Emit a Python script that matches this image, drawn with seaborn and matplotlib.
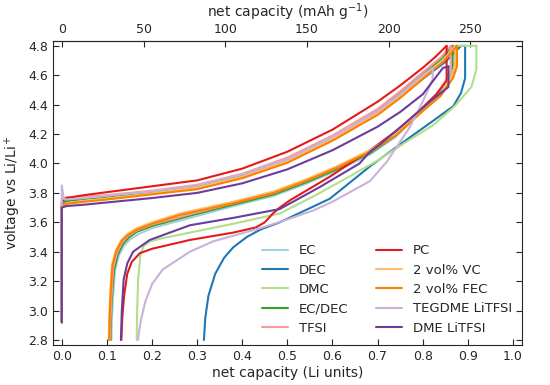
import matplotlib
matplotlib.use("Agg")
import matplotlib.pyplot as plt
import seaborn as sns

# electrolyte labels and colours (Paired palette order)
labels = ["EC", "DEC", "DMC", "EC/DEC", "TFSI",
          "PC", "2 vol% VC", "2 vol% FEC", "TEGDME LiTFSI", "DME LiTFSI"]
colors = sns.color_palette("Paired", 10)

# first charge curves (net capacity in Li units, voltage vs Li/Li+)
ec_charge_x = [0, 0, 0.01, 0.05, 0.1, 0.2, 0.3, 0.4, 0.5, 0.6, 0.7, 0.75, 0.8, 0.84, 0.87]
ec_charge_v = [2.92, 3.71, 3.74, 3.755, 3.77, 3.805, 3.845, 3.92, 4.03, 4.18, 4.36, 4.47, 4.60, 4.70, 4.80]
dec_charge_x = [0, 0, 0.01, 0.05, 0.1, 0.2, 0.3, 0.4, 0.5, 0.6, 0.7, 0.75, 0.8, 0.85, 0.885, 0.894]
dec_charge_v = [2.92, 3.71, 3.735, 3.75, 3.765, 3.80, 3.84, 3.915, 4.02, 4.17, 4.345, 4.455, 4.575, 4.69, 4.80, 4.80]
dmc_charge_x = [0, 0, 0.01, 0.05, 0.1, 0.2, 0.3, 0.4, 0.5, 0.6, 0.7, 0.75, 0.8, 0.845, 0.875, 0.919]
dmc_charge_v = [2.92, 3.71, 3.735, 3.75, 3.765, 3.80, 3.84, 3.91, 4.02, 4.17, 4.345, 4.46, 4.59, 4.70, 4.80, 4.80]
ecdec_charge_x = [0, 0, 0.01, 0.05, 0.1, 0.2, 0.3, 0.4, 0.5, 0.6, 0.7, 0.75, 0.8, 0.84, 0.866]
ecdec_charge_v = [2.92, 3.72, 3.745, 3.76, 3.775, 3.81, 3.85, 3.925, 4.035, 4.185, 4.365, 4.48, 4.61, 4.71, 4.80]
tfsi_charge_x = [0, 0, 0.01, 0.05, 0.1, 0.2, 0.3, 0.4, 0.5, 0.6, 0.7, 0.75, 0.8, 0.84, 0.862]
tfsi_charge_v = [2.92, 3.76, 3.77, 3.775, 3.785, 3.815, 3.855, 3.93, 4.04, 4.19, 4.37, 4.49, 4.62, 4.72, 4.80]
pc_charge_x = [0, 0, 0.01, 0.05, 0.1, 0.2, 0.3, 0.4, 0.5, 0.6, 0.7, 0.75, 0.8, 0.83, 0.853]
pc_charge_v = [2.92, 3.74, 3.765, 3.785, 3.805, 3.845, 3.885, 3.965, 4.08, 4.23, 4.42, 4.53, 4.65, 4.73, 4.80]
vc_charge_x = [0, 0, 0.01, 0.05, 0.1, 0.2, 0.3, 0.4, 0.5, 0.6, 0.7, 0.75, 0.8, 0.845, 0.872]
vc_charge_v = [2.92, 3.71, 3.73, 3.745, 3.76, 3.795, 3.835, 3.91, 4.015, 4.165, 4.34, 4.455, 4.585, 4.70, 4.80]
fec_charge_x = [0, 0, 0.01, 0.05, 0.1, 0.2, 0.3, 0.4, 0.5, 0.6, 0.7, 0.75, 0.8, 0.845, 0.876]
fec_charge_v = [2.92, 3.71, 3.725, 3.74, 3.755, 3.79, 3.825, 3.90, 4.005, 4.155, 4.33, 4.445, 4.575, 4.69, 4.80]
tegdme_charge_x = [0, 0, 0.004, 0.01, 0.05, 0.1, 0.2, 0.3, 0.4, 0.5, 0.6, 0.7, 0.75, 0.8, 0.822]
tegdme_charge_v = [2.92, 3.85, 3.76, 3.755, 3.765, 3.78, 3.81, 3.85, 3.925, 4.03, 4.18, 4.355, 4.47, 4.60, 4.65]
dme_charge_x = [0, 0, 0.01, 0.05, 0.1, 0.2, 0.3, 0.4, 0.5, 0.6, 0.7, 0.75, 0.8, 0.845, 0.857]
dme_charge_v = [2.92, 3.70, 3.71, 3.72, 3.735, 3.765, 3.80, 3.865, 3.96, 4.09, 4.25, 4.35, 4.47, 4.65, 4.66]

# first discharge curves
ec_dis_x = [0.87, 0.87, 0.86, 0.83, 0.79, 0.74, 0.683, 0.609, 0.54, 0.47, 0.38, 0.284, 0.20, 0.17, 0.15, 0.138, 0.126, 0.118, 0.113, 0.111, 0.11]
ec_dis_v = [4.80, 4.64, 4.55, 4.44, 4.33, 4.18, 4.06, 3.95, 3.86, 3.78, 3.71, 3.63, 3.56, 3.52, 3.48, 3.44, 3.37, 3.27, 3.08, 2.94, 2.80]
dec_dis_x = [0.894, 0.894, 0.885, 0.868, 0.823, 0.75, 0.683, 0.594, 0.483, 0.44, 0.41, 0.38, 0.36, 0.34, 0.325, 0.318, 0.315]
dec_dis_v = [4.80, 4.58, 4.48, 4.39, 4.29, 4.13, 3.98, 3.76, 3.60, 3.55, 3.50, 3.43, 3.36, 3.25, 3.10, 2.95, 2.80]
dmc_dis_x = [0.919, 0.919, 0.908, 0.871, 0.823, 0.76, 0.70, 0.631, 0.56, 0.483, 0.38, 0.284, 0.22, 0.195, 0.182, 0.174, 0.169, 0.167, 0.166]
dmc_dis_v = [4.80, 4.64, 4.52, 4.39, 4.26, 4.14, 4.02, 3.90, 3.78, 3.66, 3.59, 3.53, 3.49, 3.47, 3.44, 3.38, 3.20, 3.00, 2.80]
ecdec_dis_x = [0.866, 0.866, 0.855, 0.83, 0.79, 0.74, 0.683, 0.609, 0.54, 0.47, 0.38, 0.284, 0.20, 0.166, 0.148, 0.135, 0.124, 0.116, 0.111, 0.109, 0.108]
ecdec_dis_v = [4.80, 4.62, 4.54, 4.45, 4.34, 4.19, 4.07, 3.96, 3.87, 3.79, 3.72, 3.645, 3.575, 3.535, 3.495, 3.45, 3.38, 3.28, 3.08, 2.94, 2.80]
tfsi_dis_x = [0.862, 0.862, 0.85, 0.83, 0.79, 0.74, 0.683, 0.609, 0.54, 0.47, 0.38, 0.284, 0.20, 0.166, 0.146, 0.133, 0.122, 0.114, 0.11, 0.108, 0.107]
tfsi_dis_v = [4.80, 4.63, 4.56, 4.47, 4.35, 4.20, 4.08, 3.97, 3.88, 3.80, 3.73, 3.655, 3.585, 3.545, 3.505, 3.46, 3.39, 3.29, 3.09, 2.94, 2.80]
pc_dis_x = [0.853, 0.853, 0.83, 0.80, 0.75, 0.683, 0.594, 0.506, 0.483, 0.468, 0.45, 0.43, 0.38, 0.284, 0.20, 0.173, 0.155, 0.145, 0.138, 0.134, 0.132]
pc_dis_v = [4.80, 4.56, 4.47, 4.38, 4.24, 4.09, 3.91, 3.75, 3.70, 3.66, 3.60, 3.565, 3.53, 3.48, 3.42, 3.39, 3.33, 3.25, 3.10, 2.95, 2.80]
vc_dis_x = [0.872, 0.872, 0.862, 0.838, 0.794, 0.74, 0.683, 0.609, 0.54, 0.47, 0.38, 0.262, 0.20, 0.166, 0.145, 0.132, 0.12, 0.111, 0.107, 0.105, 0.104]
vc_dis_v = [4.80, 4.67, 4.58, 4.47, 4.35, 4.20, 4.09, 3.98, 3.89, 3.81, 3.74, 3.66, 3.60, 3.56, 3.52, 3.48, 3.41, 3.31, 3.10, 2.95, 2.80]
fec_dis_x = [0.876, 0.876, 0.867, 0.84, 0.794, 0.74, 0.683, 0.609, 0.54, 0.47, 0.38, 0.262, 0.20, 0.166, 0.145, 0.132, 0.12, 0.112, 0.108, 0.106, 0.105]
fec_dis_v = [4.80, 4.66, 4.58, 4.46, 4.34, 4.19, 4.08, 3.97, 3.88, 3.80, 3.73, 3.65, 3.59, 3.55, 3.51, 3.47, 3.40, 3.30, 3.10, 2.95, 2.80]
tegdme_dis_x = [0.822, 0.822, 0.80, 0.77, 0.72, 0.683, 0.60, 0.557, 0.50, 0.44, 0.335, 0.284, 0.224, 0.20, 0.185, 0.175, 0.171, 0.169]
tegdme_dis_v = [4.65, 4.57, 4.42, 4.24, 4.01, 3.88, 3.74, 3.68, 3.62, 3.56, 3.47, 3.40, 3.28, 3.18, 3.06, 2.93, 2.85, 2.80]
dme_dis_x = [0.857, 0.857, 0.82, 0.786, 0.74, 0.705, 0.683, 0.66, 0.572, 0.483, 0.38, 0.284, 0.195, 0.158, 0.145, 0.137, 0.133, 0.131]
dme_dis_v = [4.66, 4.52, 4.43, 4.34, 4.22, 4.13, 4.08, 4.00, 3.84, 3.69, 3.63, 3.58, 3.48, 3.40, 3.32, 3.21, 3.00, 2.80]

charge_curves = [(ec_charge_x, ec_charge_v), (dec_charge_x, dec_charge_v), (dmc_charge_x, dmc_charge_v),
                 (ecdec_charge_x, ecdec_charge_v), (tfsi_charge_x, tfsi_charge_v), (pc_charge_x, pc_charge_v),
                 (vc_charge_x, vc_charge_v), (fec_charge_x, fec_charge_v), (tegdme_charge_x, tegdme_charge_v),
                 (dme_charge_x, dme_charge_v)]
discharge_curves = [(ec_dis_x, ec_dis_v), (dec_dis_x, dec_dis_v), (dmc_dis_x, dmc_dis_v),
                    (ecdec_dis_x, ecdec_dis_v), (tfsi_dis_x, tfsi_dis_v), (pc_dis_x, pc_dis_v),
                    (vc_dis_x, vc_dis_v), (fec_dis_x, fec_dis_v), (tegdme_dis_x, tegdme_dis_v),
                    (dme_dis_x, dme_dis_v)]

MAH_PER_LI = 276.0


def plot_first_cycle(output_file):
    sns.set_style("ticks")
    fig, ax = plt.subplots(figsize=(5.5, 3.85), dpi=100)
    fig.subplots_adjust(left=0.096, right=0.949, bottom=0.104, top=0.894)

    for label, color, (cx, cv), (dx, dv) in zip(labels, colors, charge_curves, discharge_curves):
        sns.lineplot(x=cx, y=cv, ax=ax, color=color, lw=1.5, sort=False, estimator=None, label=label)
        sns.lineplot(x=dx, y=dv, ax=ax, color=color, lw=1.5, sort=False, estimator=None)

    ax.set_xlim(-0.02, 1.02)
    ax.set_ylim(2.766, 4.834)
    ax.set_xticks([0.0, 0.1, 0.2, 0.3, 0.4, 0.5, 0.6, 0.7, 0.8, 0.9, 1.0])
    ax.set_yticks([2.8, 3.0, 3.2, 3.4, 3.6, 3.8, 4.0, 4.2, 4.4, 4.6, 4.8])
    ax.xaxis.set_major_formatter(matplotlib.ticker.FormatStrFormatter("%.1f"))
    ax.yaxis.set_major_formatter(matplotlib.ticker.FormatStrFormatter("%.1f"))
    ax.tick_params(direction="in", labelsize=9, right=True, length=4)
    ax.set_xlabel("net capacity (Li units)", fontsize=10, labelpad=2)
    ax.set_ylabel("voltage vs Li/Li$^+$", fontsize=10, labelpad=4)

    top = ax.secondary_xaxis("top", functions=(lambda x: x * MAH_PER_LI, lambda m: m / MAH_PER_LI))
    top.set_xticks([0, 50, 100, 150, 200, 250])
    top.tick_params(direction="in", labelsize=9, length=4)
    top.set_xlabel("net capacity (mAh g$^{-1}$)", fontsize=10, labelpad=4)

    ax.legend(ncol=2, frameon=False, fontsize=9.5, loc="lower left",
              bbox_to_anchor=(0.42, -0.005), handlelength=2.0, labelspacing=0.48,
              columnspacing=2.1)

    plt.savefig(output_file)
    plt.close()


plot_first_cycle("out.png")
